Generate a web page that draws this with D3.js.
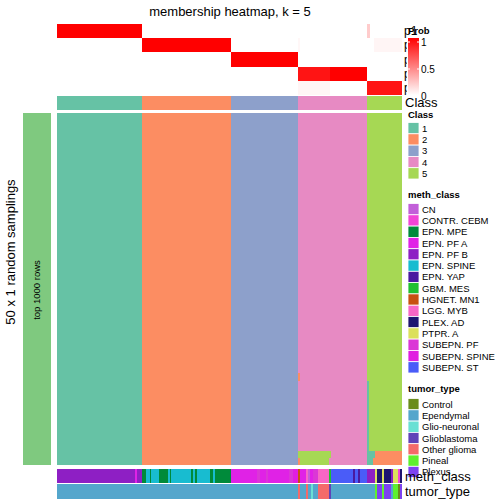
<!DOCTYPE html>
<html><head><meta charset="utf-8">
<script src="https://cdn.jsdelivr.net/npm/d3@7"></script>
<style>body{margin:0;background:#fff}svg{display:block}text{font-family:"Liberation Sans",Arial,sans-serif}</style>
</head><body><svg id="c" width="504" height="504"></svg>
<script>
// ---------- data ----------
const classNames = ["1","2","3","4","5"];
const classColors = ["#66c2a5","#fc8d62","#8da0cb","#e78ac3","#a6d854"];
// class runs: [class, number of sample columns]
const classRuns = [[1,85],[2,89],[3,67],[4,69],[5,35]];
// membership probability runs per row: [prob, count]
const probLabels = ["p1","p2","p3","p4","p5"];
const probRuns = [
  [[1,85],[0,225],[0.2,3],[0,32]],
  [[0,85],[1,89],[0,67],[0.03,2],[0,74],[0.04,28]],
  [[0,174],[1,67],[0,104]],
  [[0,241],[0.92,32],[1,37],[0,35]],
  [[0,241],[0.04,32],[0,37],[0.92,35]]
];
const nSamplings = 50;
// deviations in samplings: [row, startColumn, count, class]
const samplingDiffs = [
  [37,241,2,2],
  [38,310,2,1],[39,310,2,1],[40,310,2,1],[41,310,2,1],[42,310,2,1],[43,310,2,1],
  [44,310,2,1],[45,310,2,1],[46,310,2,1],[47,310,2,1],
  [48,241,33,5],[48,310,8,1],[48,318,27,2],
  [49,241,2,2],[49,243,29,5],[49,310,6,1],[49,316,29,2]
];
const methNames = ["CN","CONTR. CEBM","EPN. MPE","EPN. PF A","EPN. PF B","EPN. SPINE","EPN. YAP","GBM. MES","HGNET. MN1","LGG. MYB","PLEX. AD","PTPR. A","SUBEPN. PF","SUBEPN. SPINE","SUBEPN. ST"];
const methColors = ["#c25fd9","#f244d6","#008a3a","#e022e6","#8e1fc4","#18bcd0","#4a1aa0","#1fc030","#c85010","#f866c6","#1e1470","#dce05c","#db37d6","#e01ee0","#4a5cf8"];
const methRuns = [
  ["EPN. PF B",78],["EPN. PF A",2],["EPN. PF B",5],["EPN. MPE",4],["EPN. SPINE",4],["EPN. MPE",1],
  ["EPN. SPINE",8],["EPN. MPE",9],["EPN. SPINE",2],["EPN. MPE",1],["EPN. SPINE",20],["EPN. MPE",2],
  ["EPN. SPINE",2],["EPN. MPE",2],["EPN. SPINE",13],["EPN. MPE",3],["EPN. SPINE",2],["EPN. MPE",16],
  ["EPN. PF A",26],["SUBEPN. PF",3],["EPN. PF A",6],["SUBEPN. PF",2],["EPN. PF A",21],["SUBEPN. PF",4],
  ["SUBEPN. SPINE",5],["HGNET. MN1",2],["EPN. PF A",6],["LGG. MYB",2],["CN",2],["EPN. PF A",3],
  ["SUBEPN. PF",5],["LGG. MYB",11],["GBM. MES",2],["SUBEPN. ST",22],["EPN. YAP",2],["SUBEPN. ST",3],
  ["EPN. YAP",2],["SUBEPN. ST",7],["EPN. PF B",8],["PTPR. A",2],["PLEX. AD",5],["PTPR. A",2],
  ["PLEX. AD",7],["EPN. PF B",2],["PTPR. A",5],["CONTR. CEBM",2],["PLEX. AD",2]
];
const tumorNames = ["Control","Ependymal","Glio-neuronal","Glioblastoma","Other glioma","Pineal","Plexus"];
const tumorColors = ["#6a8c1c","#54a6cc","#6ae0d4","#6042b8","#f46a6a","#5ef02e","#7d42f0"];
const tumorRuns = [
  ["Ependymal",241],["Other glioma",2],["Ependymal",6],["Other glioma",2],["Ependymal",3],["Glio-neuronal",2],
  ["Ependymal",5],["Other glioma",11],["Glioblastoma",2],["Ependymal",44],["Pineal",2],["Plexus",5],
  ["Pineal",2],["Plexus",7],["Ependymal",2],["Pineal",5],["Control",2],["Plexus",2]
];
const probTicks = [0,0.5,1];

// ---------- helpers ----------
function expand(runs){const out=[];let s=0;for(const [v,n] of runs){out.push({v,start:s,n});s+=n;}return out;}
const nCols = d3.sum(classRuns,d=>d[1]);
const svg = d3.select("#c");
const x = d3.scaleLinear().domain([0,nCols]).range([57,402]);
const probColor = d3.scaleLinear().domain([0,1]).range(["#ffffff","#ff0000"]);
const classColor = d3.scaleOrdinal().domain(classNames.map(Number)).range(classColors);
const methColor = d3.scaleOrdinal().domain(methNames).range(methColors);
const tumorColor = d3.scaleOrdinal().domain(tumorNames).range(tumorColors);

// title
svg.append("text").attr("x",230).attr("y",16).attr("text-anchor","middle").attr("font-size",13).text("membership heatmap, k = 5");

// probability heatmap
const yProb = d3.scaleBand().domain(probLabels).range([24,95]);
probRuns.forEach((runs,i)=>{
  svg.append("g").selectAll("rect").data(expand(runs)).join("rect")
    .attr("x",d=>x(d.start)).attr("width",d=>x(d.start+d.n)-x(d.start))
    .attr("y",yProb(probLabels[i])).attr("height",yProb.bandwidth())
    .attr("fill",d=>probColor(d.v)).attr("shape-rendering","crispEdges");
  svg.append("text").attr("x",404).attr("y",yProb(probLabels[i])+yProb.bandwidth()/2+4)
    .attr("font-size",12).text(probLabels[i]);
});

// class bar
svg.append("g").selectAll("rect").data(expand(classRuns)).join("rect")
  .attr("x",d=>x(d.start)).attr("width",d=>x(d.start+d.n)-x(d.start))
  .attr("y",96).attr("height",14).attr("fill",d=>classColor(d.v)).attr("shape-rendering","crispEdges");
svg.append("text").attr("x",405).attr("y",107).attr("font-size",13).text("Class");

// main sampling heatmap
const yRow = d3.scaleBand().domain(d3.range(nSamplings)).range([113,465]);
const gMain = svg.append("g");
gMain.selectAll("rect.base").data(expand(classRuns)).join("rect")
  .attr("x",d=>x(d.start)).attr("width",d=>x(d.start+d.n)-x(d.start))
  .attr("y",113).attr("height",352).attr("fill",d=>classColor(d.v)).attr("shape-rendering","crispEdges");
gMain.selectAll("rect.diff").data(samplingDiffs).join("rect")
  .attr("x",d=>x(d[1])).attr("width",d=>x(d[1]+d[2])-x(d[1]))
  .attr("y",d=>yRow(d[0])).attr("height",yRow.bandwidth()+0.3)
  .attr("fill",d=>classColor(d[3])).attr("shape-rendering","crispEdges");

// left annotation
svg.append("rect").attr("x",23).attr("y",113).attr("width",28).attr("height",352).attr("fill","#7fc97f");
svg.append("text").attr("transform","translate(40,290) rotate(-90)").attr("text-anchor","middle").attr("font-size",9.5).text("top 1000 rows");
svg.append("text").attr("transform","translate(15,252) rotate(-90)").attr("text-anchor","middle").attr("font-size",13).text("50 x 1 random samplings");

// bottom annotations
svg.append("g").selectAll("rect").data(expand(methRuns)).join("rect")
  .attr("x",d=>x(d.start)).attr("width",d=>x(d.start+d.n)-x(d.start))
  .attr("y",469).attr("height",14).attr("fill",d=>methColor(d.v)).attr("shape-rendering","crispEdges");
svg.append("g").selectAll("rect").data(expand(tumorRuns)).join("rect")
  .attr("x",d=>x(d.start)).attr("width",d=>x(d.start+d.n)-x(d.start))
  .attr("y",484).attr("height",15).attr("fill",d=>tumorColor(d.v)).attr("shape-rendering","crispEdges");

// legends
const lx = 408;
// Prob
const defs = svg.append("defs");
const grad = defs.append("linearGradient").attr("id","pg").attr("x1",0).attr("y1",1).attr("x2",0).attr("y2",0);
grad.selectAll("stop").data([0,0.5,1]).join("stop").attr("offset",d=>d).attr("stop-color",d=>probColor(d));
svg.append("rect").attr("x",407).attr("y",38).attr("width",12).attr("height",57).attr("fill","#fff");
svg.append("rect").attr("x",lx).attr("y",38).attr("width",11).attr("height",57).attr("fill","url(#pg)");
const yLeg = d3.scaleLinear().domain([0,1]).range([96,42]);
probTicks.forEach(t=>{
  if(t>0){
    svg.append("line").attr("x1",lx).attr("x2",lx+2).attr("y1",yLeg(t)).attr("y2",yLeg(t)).attr("stroke","#fff");
    svg.append("line").attr("x1",lx+9).attr("x2",lx+11).attr("y1",yLeg(t)).attr("y2",yLeg(t)).attr("stroke","#fff");
  }
  svg.append("text").attr("x",421).attr("y",yLeg(t)+3.5).attr("font-size",10).text(t);
});
svg.append("text").attr("x",lx).attr("y",34).attr("font-size",9.5).attr("font-weight","bold").text("Prob");

function legend(title, names, colorScale, titleY, startY){
  svg.append("text").attr("x",lx).attr("y",titleY).attr("font-size",9.5).attr("font-weight","bold").text(title);
  const step = 11.3;
  const g = svg.append("g");
  g.selectAll("rect").data(names).join("rect")
    .attr("x",lx).attr("y",(d,i)=>startY+i*step).attr("width",11).attr("height",step)
    .attr("fill",d=>colorScale(d)).attr("stroke","#fff").attr("stroke-width",0.8);
  g.selectAll("text").data(names).join("text")
    .attr("x",lx+14).attr("y",(d,i)=>startY+i*step+step/2+3.5).attr("font-size",9.5).text(d=>d);
}
legend("Class", classNames, d=>classColor(+d), 118, 122.5);
legend("meth_class", methNames, methColor, 198, 203.5);
legend("tumor_type", tumorNames, tumorColor, 392, 398.5);

svg.append("text").attr("x",405).attr("y",481).attr("font-size",13).text("meth_class");
svg.append("text").attr("x",405).attr("y",496).attr("font-size",13).text("tumor_type");
</script></body></html>
